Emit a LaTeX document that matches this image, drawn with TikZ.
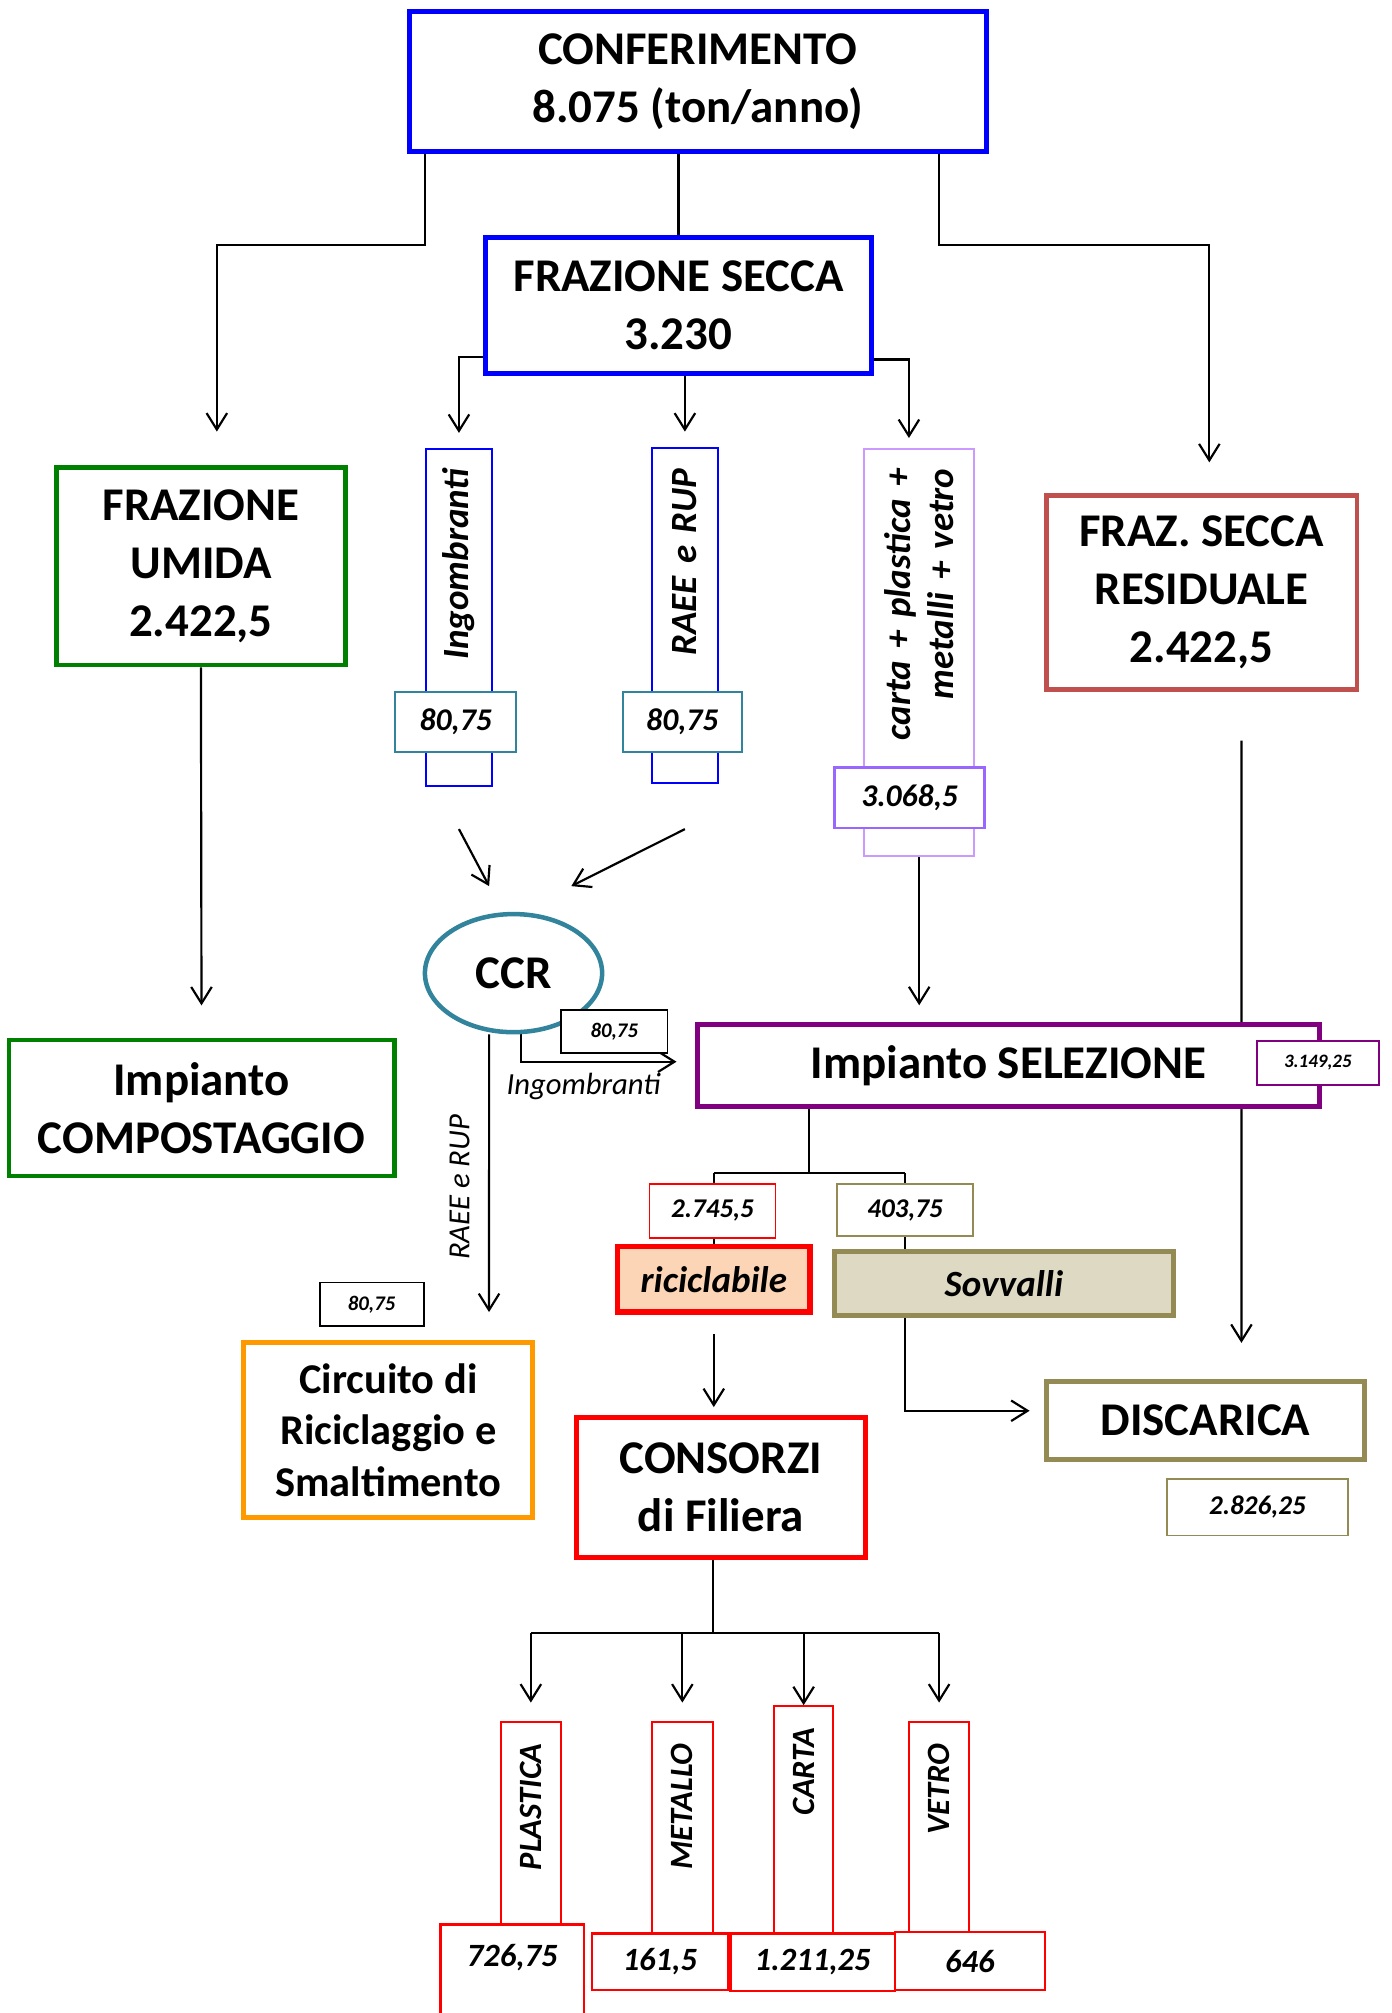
\documentclass[tikz,border=0pt]{standalone}
\usepackage{fontspec}
\setmainfont{Carlito}
\usetikzlibrary{arrows.meta,shapes.geometric,backgrounds}

\definecolor{boxblue}{HTML}{0000FF}
\definecolor{boxgreen}{HTML}{008000}
\definecolor{resred}{HTML}{C0504D}
\definecolor{ccrteal}{HTML}{31849B}
\definecolor{lilac}{HTML}{CC99FF}
\definecolor{lilacdark}{HTML}{9966FF}
\definecolor{selpurple}{HTML}{800080}
\definecolor{peach}{HTML}{FBD5B5}
\definecolor{khaki}{HTML}{948A54}
\definecolor{khakifill}{HTML}{DDD9C3}
\definecolor{circorange}{HTML}{FF9900}

\newcommand{\fbig}{\fontsize{26}{32}\selectfont\bfseries}
\newcommand{\fmid}{\fontsize{23.5}{28.5}\selectfont\bfseries}
\newcommand{\fvert}{\fontsize{20.5}{24}\selectfont\bfseries\itshape}
\newcommand{\fbottom}{\fontsize{18}{21}\selectfont\bfseries\itshape}
\newcommand{\fnum}{\fontsize{17.5}{21}\selectfont\bfseries\itshape}
\newcommand{\fmed}{\fontsize{15}{18}\selectfont\bfseries\itshape}
\newcommand{\fsmall}{\fontsize{11.5}{14}\selectfont\bfseries\itshape}
\newcommand{\ftiny}{\fontsize{10.5}{13}\selectfont\bfseries\itshape}
\newcommand{\flabel}{\fontsize{17}{20}\selectfont\itshape}

\begin{document}
\begin{tikzpicture}[x=0.025cm, y=-0.025cm,
	box/.style={draw, fill=white, line width=2.8pt, font=\fbig},
	tall/.style={draw, fill=white, line width=1.1pt, rotate=90, align=right, inner ysep=0pt, font=\fvert},
	numbox/.style={draw, fill=white, line width=1pt, font=\fnum},
	arr/.style={->, line width=1.2pt},
	>={Straight Barb[length=0.32cm, width=0.4cm]}]
		\tikzstyle{every node}=[inner sep=0pt, align=center]
		\useasboundingbox (0,0) rectangle (1084,1568);
		% top level
		\node[box, draw=boxblue, minimum width=11.225cm, minimum height=2.725cm] (conf) at (543.5, 63.5) {CONFERIMENTO\\8.075 (ton/anno)};
		\node[box, draw=boxblue, minimum width=7.525cm, minimum height=2.65cm] (secca) at (528.5, 238) {FRAZIONE SECCA\\3.230};
		\node[box, draw=boxgreen, line width=2.6pt, minimum width=5.625cm, minimum height=3.85cm] (umida) at (156.5, 441) {FRAZIONE\\UMIDA\\2.422,5};
		\node[box, draw=boxgreen, line width=2.6pt, minimum width=7.5cm, minimum height=2.65cm] (compost) at (157, 863) {Impianto\\COMPOSTAGGIO};
		\node[box, draw=resred, line width=2.6pt, minimum width=6.05cm, minimum height=3.775cm] (residuale) at (936, 461.5) {FRAZ. SECCA\\RESIDUALE\\2.422,5};
		% fractions of the dry part
		\node[tall, draw=boxblue, text width=5.8cm, inner xsep=0.375cm, minimum height=1.275cm] (ingomb) at (357.5, 481) {Ingombranti};
		\node[tall, draw=boxblue, text width=5.725cm, inner xsep=0.4cm, minimum height=1.275cm] (raee) at (533.5, 479.5) {RAEE e RUP};
		\node[tall, draw=lilac, text width=7.175cm, inner xsep=0.375cm, minimum height=2.15cm] (mix) at (716, 508.5) {carta + plastica +\\metalli + vetro};
		\node[numbox, draw=ccrteal, minimum width=2.35cm, minimum height=1.175cm] (ingombnum) at (355, 562.5) {80,75};
		\node[numbox, draw=ccrteal, minimum width=2.325cm, minimum height=1.175cm] (raeenum) at (531.5, 562.5) {80,75};
		\node[numbox, draw=lilacdark, line width=1.5pt, minimum width=2.925cm, minimum height=1.175cm] (mixnum) at (708.5, 621.5) {3.068,5};
		% CCR and selection
		\node[ellipse, draw=ccrteal, line width=2.5pt, fill=white, minimum width=3.45cm, minimum height=2.3cm, font=\fbig] (ccr) at (400, 758) {CCR};
		\node[numbox, draw=black, font=\fsmall, minimum width=2.075cm, minimum height=0.825cm] (ccrnum) at (478.5, 803.5) {80,75};
		\node[box, draw=selpurple, minimum width=12.125cm, minimum height=1.6cm] (sel) at (785.5, 830) {Impianto SELEZIONE};
		\node[numbox, draw=selpurple, font=\ftiny, minimum width=2.375cm, minimum height=0.85cm] (selnum) at (1026.5, 828) {3.149,25};
		\node[numbox, draw=red, font=\fmed, minimum width=2.45cm, minimum height=1.05cm] (ricinum) at (555, 943) {2.745,5};
		\node[box, draw=red, fill=peach, line width=3pt, font=\fvert, minimum width=3.75cm, minimum height=1.275cm] (rici) at (556, 996.5) {riciclabile};
		\node[numbox, draw=khaki, font=\fmed, minimum width=2.65cm, minimum height=1.025cm] (sovvnum) at (705, 942.5) {403,75};
		\node[box, draw=khaki, fill=khakifill, font=\fvert, minimum width=6.6cm, minimum height=1.25cm] (sovv) at (782, 1000) {Sovvalli};
		\node[box, draw=khaki, minimum width=6.2cm, minimum height=1.525cm] (disc) at (939, 1106.5) {DISCARICA};
		\node[numbox, draw=khaki, font=\fmed, minimum width=3.525cm, minimum height=1.1cm] (discnum) at (979.5, 1174) {2.826,25};
		\node[box, draw=red, minimum width=5.625cm, minimum height=2.725cm] (consorzi) at (561.5, 1158.5) {CONSORZI\\di Filiera};
		\node[box, draw=circorange, font=\fmid, minimum width=5.625cm, minimum height=3.4cm] (circuito) at (302.5, 1114) {Circuito di\\Riciclaggio e\\Smaltimento};
		\node[numbox, draw=black, font=\fsmall, minimum width=2.025cm, minimum height=0.85cm] (circnum) at (289.5, 1016) {80,75};
		% materials
		\node[tall, draw=red, font=\fbottom, text width=3.875cm, inner xsep=0.425cm, minimum height=1.175cm] (plast) at (413.5, 1435.5) {PLASTICA};
		\node[tall, draw=red, font=\fbottom, text width=3.875cm, inner xsep=0.425cm, minimum height=1.175cm] (metal) at (531.5, 1435.5) {METALLO};
		\node[tall, draw=red, font=\fbottom, text width=4.175cm, inner xsep=0.425cm, minimum height=1.15cm] (carta) at (626, 1429.5) {CARTA};
		\node[tall, draw=red, font=\fbottom, text width=3.875cm, inner xsep=0.425cm, minimum height=1.175cm] (vetro) at (731.5, 1435.5) {VETRO};
		\node[numbox, draw=red, line width=1.3pt, font=\fbottom, anchor=north, inner sep=0.15cm, minimum width=2.8cm, text height=0.675cm, text depth=1.2cm] (plastnum) at (399, 1498) {726,75};
		\node[numbox, draw=red, line width=1.3pt, font=\fbottom, minimum width=2.65cm, minimum height=1.1cm] (metalnum) at (514, 1528) {161,5};
		\node[numbox, draw=red, line width=1.3pt, font=\fbottom, minimum width=3.2cm, minimum height=1.125cm] (cartanum) at (633, 1528.5) {1.211,25};
		\node[numbox, draw=red, line width=1.3pt, font=\fbottom, minimum width=2.925cm, minimum height=1.125cm] (vetronum) at (755.5, 1527.5) {646};
		% connectors
		\begin{scope}[on background layer]
			\draw[arr] ([xshift=-5.31cm]conf.south) -- ++(0,71) -| ([xshift=0.31cm, yshift=0.65cm]umida.north);
			\draw[line width=1.2pt] (conf.south -| secca.north) -- (secca.north);
			\draw[arr] ([xshift=4.69cm]conf.south) -- ++(0,71) -| ([xshift=0.15cm, yshift=0.6cm]residuale.north);
			\draw[arr] ([yshift=-1cm]secca.west) -| ([yshift=0.3cm]ingomb.east);
			\draw[arr] (raee.east |- secca.south) -- ([yshift=0.3cm]raee.east);
			\draw[arr] ([yshift=-1.05cm]secca.east) -| ([xshift=-0.2cm, yshift=0.2cm]mix.east);
			\draw[arr, shorten >=0.625cm] (umida.south) -- (compost.north);
			\draw[arr] ([yshift=-0.825cm]ingomb.west) -- ([xshift=-0.475cm, yshift=0.5cm]ccr.north);
			\draw[arr] ([yshift=-0.875cm]raee.west) -- ([xshift=1.125cm, yshift=0.5cm]ccr.north);
			\draw[arr, shorten >=0.325cm] (mix.west) -- (mix.west |- sel.north);
			\draw[arr, shorten <=0.95cm, shorten >=0.7cm] ([xshift=0.775cm]residuale.south) -- ([xshift=0.7cm]disc.north);
			\draw[arr, shorten >=0.55cm] ([xshift=-0.475cm]ccr.south) -- ([xshift=1.96cm]circuito.north)
				node[midway, xshift=-0.575cm, rotate=90, font=\flabel] (lblraee) {RAEE e RUP};
			\draw[arr, shorten >=0.35cm] ([xshift=0.15cm]ccr.south) |- ([yshift=0.075cm]sel.west)
				node[pos=0.68, below, inner sep=6pt, font=\flabel] (lblingomb) {Ingombranti};
			\draw[line width=1.2pt] ([xshift=-3.89cm]sel.south) -- ++(0,50) coordinate (split);
			\draw[line width=1.2pt] (rici.north |- split) -- (sovvnum.north |- split);
			\draw[line width=1.2pt] (rici.north |- split) -- (rici.north);
			\draw[line width=1.2pt] (sovvnum.north |- split) -- (sovvnum.north |- sovv.north);
			\draw[arr, shorten <=0.375cm, shorten >=0.15cm] (rici.south) -- (rici.south |- consorzi.north);
			\draw[arr, shorten >=0.275cm] (sovvnum.south |- sovv.south) |- ([yshift=0.19cm]disc.west);
			\draw[line width=1.2pt] ([xshift=-0.16cm]consorzi.south) -- ++(0,57) coordinate (fork);
			\draw[line width=1.2pt] (plast.east |- fork) -- (vetro.east |- fork);
			\foreach \n in {plast, metal, vetro}
				\draw[arr, shorten >=0.35cm] (\n.east |- fork) -- (\n.east);
			\draw[arr] (carta.east |- fork) -- (carta.east);
		\end{scope}
\end{tikzpicture}
\end{document}
